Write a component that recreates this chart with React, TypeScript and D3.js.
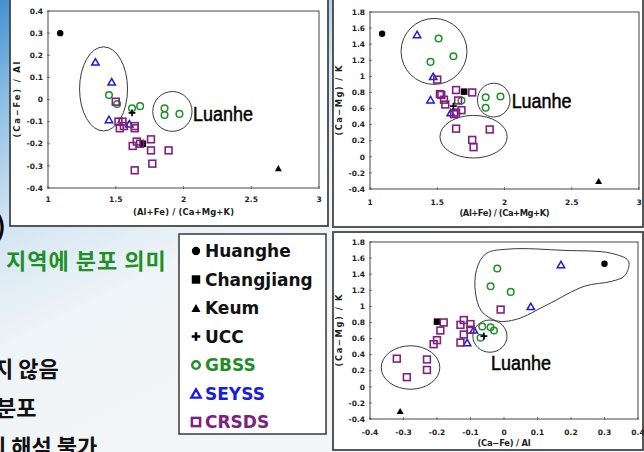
import React from "react";
import * as d3 from "d3";

// Sample ratios: A = (Al+Fe)/(Ca+Mg+K), B = (Ca-Fe)/Al, C = (Ca-Mg)/K
const huangheA = [1.09];
const huangheB = [0.3];
const huangheC = [1.53];
const changjiangA = [1.7];
const changjiangB = [-0.2];
const changjiangC = [0.81];
const keumA = [2.7];
const keumB = [-0.31];
const keumC = [-0.3];
const uccA = [1.62];
const uccB = [-0.06];
const uccC = [0.63];
const gbssA = [1.51, 1.45, 1.62, 1.68, 1.86, 1.86, 1.97];
const gbssB = [-0.02, 0.02, -0.04, -0.03, -0.04, -0.07, -0.065];
const gbssC = [1.47, 1.18, 1.25, 0.7, 0.74, 0.61, 0.75];
const seyssA = [1.35, 1.47, 1.45, 1.6];
const seyssB = [0.17, 0.08, -0.09, -0.11];
const seyssC = [1.52, 1.0, 0.71, 0.55];
const crsdsA = [1.5, 1.64, 1.77, 1.89, 1.76, 1.76, 1.655, 1.625, 1.68, 1.52, 1.53, 1.64, 1.55, 1.56, 1.64];
const crsdsB = [-0.01, -0.32, -0.29, -0.23, -0.23, -0.18, -0.19, -0.21, -0.2, -0.1, -0.13, -0.12, -0.1, -0.12, -0.13];
const crsdsC = [0.96, 0.35, 0.12, 0.34, 0.21, 0.8, 0.7, 0.53, 0.58, 0.78, 0.77, 0.83, 0.71, 0.65, 0.55];

const seriesNames = ["Huanghe", "Changjiang", "Keum", "UCC", "GBSS", "SEYSS", "CRSDS"];

// Axis ticks
const ticksA = [1, 1.5, 2, 2.5, 3];
const ticksB = [-0.4, -0.3, -0.2, -0.1, 0, 0.1, 0.2, 0.3, 0.4];
const ticksC = [-0.4, -0.2, 0, 0.2, 0.4, 0.6, 0.8, 1, 1.2, 1.4, 1.6, 1.8];

// Group outlines, in data units of each panel
const outlinesAB = [
  { cx: 1.41, cy: 0.048, rx: 0.177, ry: 0.19 },
  { cx: 1.918, cy: -0.054, rx: 0.145, ry: 0.09 },
];
const outlinesAC = [
  { cx: 1.476, cy: 1.31, rx: 0.245, ry: 0.41 },
  { cx: 1.92, cy: 0.705, rx: 0.121, ry: 0.21 },
  { cx: 1.77, cy: 0.25, rx: 0.25, ry: 0.265 },
];
const outlinesBC = [
  { cx: -0.042, cy: 0.63, rx: 0.051, ry: 0.2 },
  { cx: -0.279, cy: 0.24, rx: 0.0875, ry: 0.27 },
];
const blobBC: [number, number][] = [
  [-0.082, 1.456], [-0.054, 1.655], [0.018, 1.713], [0.179, 1.696], [0.32, 1.66],
  [0.372, 1.56], [0.36, 1.38], [0.32, 1.31], [0.24, 1.25], [0.129, 1.02],
  [0.038, 0.84], [-0.022, 0.82], [-0.067, 0.94], [-0.085, 1.165],
];

type Shape = "circle" | "square" | "triangle" | "plus";
type Series = {
  name: string; color: string; shape: Shape; filled: boolean;
  vals: Record<string, number[]>;
};

const series: Series[] = [
  { name: seriesNames[0], color: "#000", shape: "circle", filled: true, vals: { A: huangheA, B: huangheB, C: huangheC } },
  { name: seriesNames[1], color: "#000", shape: "square", filled: true, vals: { A: changjiangA, B: changjiangB, C: changjiangC } },
  { name: seriesNames[2], color: "#000", shape: "triangle", filled: true, vals: { A: keumA, B: keumB, C: keumC } },
  { name: seriesNames[4], color: "#1f8f26", shape: "circle", filled: false, vals: { A: gbssA, B: gbssB, C: gbssC } },
  { name: seriesNames[5], color: "#1a1ae6", shape: "triangle", filled: false, vals: { A: seyssA, B: seyssB, C: seyssC } },
  { name: seriesNames[6], color: "#7e2180", shape: "square", filled: false, vals: { A: crsdsA, B: crsdsB, C: crsdsC } },
  { name: seriesNames[3], color: "#000", shape: "plus", filled: true, vals: { A: uccA, B: uccB, C: uccC } },
];
const legendOrder = seriesNames.map((n) => series.find((s) => s.name === n)!);

function Marker({ s, x, y, big }: { s: Series; x: number; y: number; big?: boolean }) {
  const k = big ? 1.3 : 1;
  const sw = big ? 2.5 : 1.5;
  const fill = s.filled ? s.color : "none";
  const stroke = s.filled ? "none" : s.color;
  if (s.shape === "circle") {
    const r = s.filled ? 3.2 * k : 3.3 * (big ? 1.15 : 1);
    return <circle cx={x} cy={y} r={r} fill={fill} stroke={stroke} strokeWidth={sw} />;
  }
  if (s.shape === "square") {
    const a = s.filled ? 6.5 * k : (big ? 8.2 : 6.8);
    return <rect x={x - a / 2} y={y - a / 2} width={a} height={a} fill={fill} stroke={stroke} strokeWidth={big ? 2.5 : 1.6} />;
  }
  if (s.shape === "triangle") {
    const a = s.filled ? 7 * k : (big ? 9.5 : 7.4);
    const h = a * 0.87;
    const d = `M${x},${y - h / 2}L${x - a / 2},${y + h / 2}L${x + a / 2},${y + h / 2}Z`;
    return <path d={d} fill={fill} stroke={stroke} strokeWidth={big ? 2.3 : 1.5} strokeLinejoin="miter" />;
  }
  const a = big ? 4.3 : 3.4;
  return (
    <path d={`M${x - a},${y}H${x + a}M${x},${y - a}V${y + a}`} stroke={s.color} strokeWidth={big ? 2.6 : 1.7} fill="none" />
  );
}

type Outline = { cx: number; cy: number; rx: number; ry: number };
type PanelCfg = {
  frame: { x: number; y: number; w: number; h: number };
  plot: { left: number; right: number; top: number; bottom: number };
  xKey: string; yKey: string;
  xDomain: [number, number]; yDomain: [number, number];
  xTicks: number[]; yTicks: number[];
  xTitle: string; yTitle: string; xTitleLen: number; yTitleLen: number;
  labelGap: number; titleGap: number; yTitleX: number;
  outlines: Outline[]; blob?: [number, number][];
  luanhe: [number, number];
};

const panels: PanelCfg[] = [
  {
    frame: { x: 10, y: -1, w: 318, h: 227 },
    plot: { left: 48, right: 319, top: 11, bottom: 188 },
    xKey: "A", yKey: "B", xDomain: [1, 3], yDomain: [-0.4, 0.4],
    xTicks: ticksA, yTicks: ticksB,
    xTitle: "(Al+Fe) / (Ca+Mg+K)", yTitle: "(Ca\u2212Fe) / Al", xTitleLen: 101, yTitleLen: 76,
    labelGap: 14, titleGap: 27, yTitleX: 20,
    outlines: outlinesAB, luanhe: [2.07, -0.097],
  },
  {
    frame: { x: 333, y: -1, w: 310, h: 228 },
    plot: { left: 370, right: 639, top: 12, bottom: 189 },
    xKey: "A", yKey: "C", xDomain: [1, 3], yDomain: [-0.4, 1.8],
    xTicks: ticksA, yTicks: ticksC,
    xTitle: "(Al+Fe) / (Ca+Mg+K)", yTitle: "(Ca\u2212Mg) / K", xTitleLen: 90, yTitleLen: 70,
    labelGap: 16, titleGap: 26.5, yTitleX: 342,
    outlines: outlinesAC, luanhe: [2.053, 0.607],
  },
  {
    frame: { x: 333, y: 232, w: 310, h: 218 },
    plot: { left: 370, right: 638, top: 242, bottom: 419 },
    xKey: "B", yKey: "C", xDomain: [-0.4, 0.4], yDomain: [-0.4, 1.8],
    xTicks: ticksB, yTicks: ticksC,
    xTitle: "(Ca\u2212Fe) / Al", yTitle: "(Ca\u2212Mg) / K", xTitleLen: 53, yTitleLen: 72,
    labelGap: 15.7, titleGap: 26.5, yTitleX: 342,
    outlines: outlinesBC, blob: blobBC, luanhe: [-0.039, 0.209],
  },
];

const tickFont = "'DejaVu Sans', sans-serif";
const fmt = (v: number) => String(+v.toFixed(2));

function Panel({ cfg }: { cfg: PanelCfg }) {
  const { plot, frame } = cfg;
  const x = d3.scaleLinear().domain(cfg.xDomain).range([plot.left, plot.right]);
  const y = d3.scaleLinear().domain(cfg.yDomain).range([plot.bottom, plot.top]);
  const blobPath = cfg.blob
    ? d3.line<[number, number]>().x((d) => x(d[0])).y((d) => y(d[1])).curve(d3.curveCatmullRomClosed.alpha(0.5))(cfg.blob)
    : null;
  const midY = (plot.top + plot.bottom) / 2;
  return (
    <g>
      <rect x={frame.x} y={frame.y} width={frame.w} height={frame.h} fill="#fff" stroke="#454545" strokeWidth={1.8} />
      <rect x={plot.left} y={plot.top} width={plot.right - plot.left} height={plot.bottom - plot.top}
        fill="none" stroke="#333" strokeWidth={0.9} />
      {cfg.xTicks.map((t) => (
        <g key={"x" + t}>
          <line x1={x(t)} x2={x(t)} y1={plot.bottom - 2} y2={plot.bottom + 1} stroke="#555" strokeWidth={0.8} />
          <text x={x(t)} y={plot.bottom + cfg.labelGap} textAnchor="middle" fontFamily={tickFont}
            fontWeight="bold" fontSize={7.5} fill="#222">{fmt(t)}</text>
        </g>
      ))}
      {cfg.yTicks.map((t) => (
        <g key={"y" + t}>
          <line x1={plot.left - 1} x2={plot.left + 2} y1={y(t)} y2={y(t)} stroke="#555" strokeWidth={0.8} />
          <text x={plot.left - 5} y={y(t)} dy="0.36em" textAnchor="end" fontFamily={tickFont}
            fontWeight="bold" fontSize={7.5} fill="#222">{fmt(t)}</text>
        </g>
      ))}
      <text x={(plot.left + plot.right) / 2} y={plot.bottom + cfg.titleGap} textAnchor="middle"
        fontFamily={tickFont} fontWeight="bold" fontSize={8.4} fill="#222"
        textLength={cfg.xTitleLen} lengthAdjust="spacing">{cfg.xTitle}</text>
      <text transform={`translate(${cfg.yTitleX},${midY}) rotate(-90)`} textAnchor="middle"
        fontFamily={tickFont} fontWeight="bold" fontSize={8.4} fill="#222"
        textLength={cfg.yTitleLen} lengthAdjust="spacing">{cfg.yTitle}</text>
      {cfg.outlines.map((o, i) => (
        <ellipse key={i} cx={x(o.cx)} cy={y(o.cy)} rx={Math.abs(x(o.cx + o.rx) - x(o.cx))}
          ry={Math.abs(y(o.cy + o.ry) - y(o.cy))} fill="none" stroke="#3a3a3a" strokeWidth={1} />
      ))}
      {blobPath && <path d={blobPath} fill="none" stroke="#3a3a3a" strokeWidth={1} />}
      {series.map((s) =>
        s.vals[cfg.xKey].map((v, i) => (
          <Marker key={s.name + i} s={s} x={x(v)} y={y(s.vals[cfg.yKey][i])} />
        ))
      )}
      <text x={x(cfg.luanhe[0])} y={y(cfg.luanhe[1])} fontFamily="'Liberation Sans', Arial, sans-serif"
        fontSize={20} fill="#000" stroke="#000" strokeWidth={0.45}
        textLength={60} lengthAdjust="spacingAndGlyphs">Luanhe</text>
    </g>
  );
}

function Legend() {
  const left = 179, top = 234, w = 147, h = 200;
  const base0 = 257, step = 28.5;
  return (
    <g>
      <rect x={left} y={top} width={w} height={h} fill="#fff" stroke="#444" strokeWidth={1.6} />
      {legendOrder.map((s, i) => {
        const b = base0 + i * step;
        return (
          <g key={s.name}>
            <Marker s={s} x={196} y={b - 6} big />
            <text x={205} y={b} fontFamily="'DejaVu Sans', sans-serif" fontWeight="bold" fontSize={17}
              fill={s.color === "#000" ? "#111" : s.color}>{s.name}</text>
          </g>
        );
      })}
    </g>
  );
}

export default function App() {
  const W = 644, H = 452;
  const kr = "'Noto Sans CJK KR', sans-serif";
  return (
    <svg width={W} height={H} viewBox={`0 0 ${W} ${H}`}
      style={{ position: "absolute", left: 0, top: 0, display: "block" }}>
      <defs>
        <linearGradient id="slideBg" gradientUnits="userSpaceOnUse" x1={0} y1={0} x2={200} y2={400}>
          <stop offset="0" stopColor="#4391d2" />
          <stop offset="0.2" stopColor="#8bbee6" />
          <stop offset="0.45" stopColor="#d2e5f2" />
          <stop offset="0.7" stopColor="#eef4f8" />
          <stop offset="1" stopColor="#f4f5f6" />
        </linearGradient>
      </defs>
      <rect x={0} y={0} width={W} height={H} fill="url(#slideBg)" />
      <text x={-4} y={236} fontFamily={kr} fontWeight="bold" fontSize={26} fill="#000">)</text>
      <text x={6} y={269} fontFamily={kr} fontWeight="bold" fontSize={22} fill="#1f8f26" letterSpacing={1}>지역에 분포 의미</text>
      <text x={-7} y={377} fontFamily={kr} fontWeight="bold" fontSize={22} fill="#111">지 않음</text>
      <text x={-4} y={416} fontFamily={kr} fontWeight="bold" fontSize={22} fill="#111">분포</text>
      <text x={-14} y={455} fontFamily={kr} fontWeight="bold" fontSize={22} fill="#111">의 해석 불가</text>
      {panels.map((p, i) => (
        <Panel key={i} cfg={p} />
      ))}
      <Legend />
    </svg>
  );
}
